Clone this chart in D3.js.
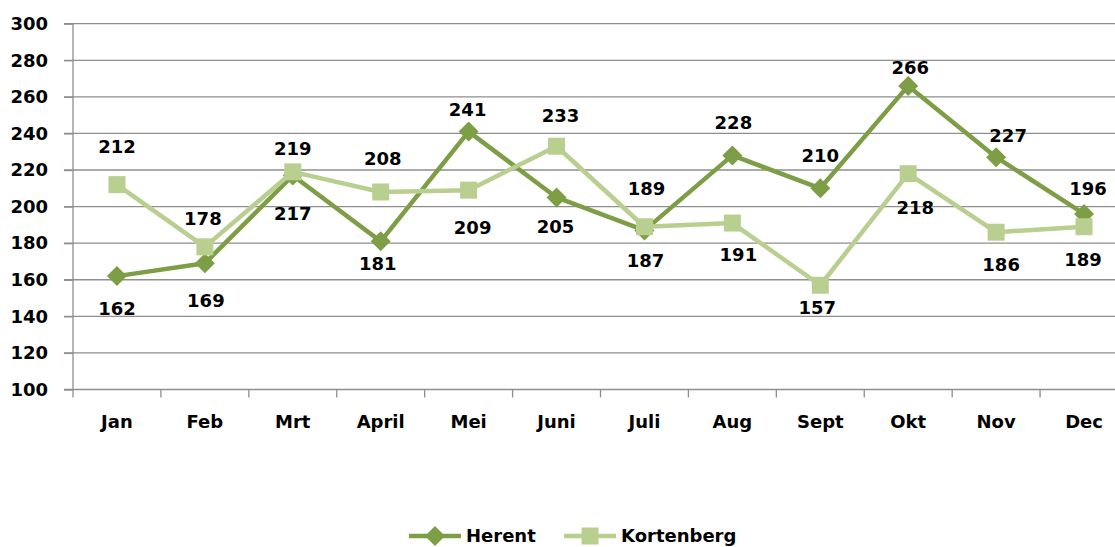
<!DOCTYPE html>
<html lang="en">
<head>
<meta charset="UTF-8">
<script src="https://d3js.org/d3.v7.min.js"></script>
<style>
    body { margin: 0; background: #fff; }
    svg { display: block; font-family: "DejaVu Sans", sans-serif; font-weight: bold; }
    .grid line { stroke: #8e8e8e; stroke-width: 1.3px; }
    .axis path, .axis line { stroke: #8e8e8e; stroke-width: 1.3px; }
    .axis text { fill: #000; font-size: 18px; font-weight: bold; font-family: "DejaVu Sans", sans-serif; }
    .lbl { font-size: 18px; fill: #000; }
</style>
</head>
<body>
<svg id="chart" width="1115" height="547"></svg>
<script>
// data
const months = ["Jan", "Feb", "Mrt", "April", "Mei", "Juni", "Juli", "Aug", "Sept", "Okt", "Nov", "Dec"];
const herent = [162, 169, 217, 181, 241, 205, 187, 228, 210, 266, 227, 196];
const kortenberg = [212, 178, 219, 208, 209, 233, 189, 191, 157, 218, 186, 189];
const yTicks = [100, 120, 140, 160, 180, 200, 220, 240, 260, 280, 300];

// label offsets (dx, dy) from each point
const herentLbl = [[0,32],[1,37],[0,38],[-3,22],[-1,-22],[-1,29],[1,30],[1,-33],[0,-33],[2,-18],[12,-22],[4,-25]];
const kortLbl = [[0,-38],[-2,-28],[0,-23],[2,-33],[4,37],[4,-31],[2,-38],[6,31],[-3,22],[7,34],[5,32],[-1,33]];

const svg = d3.select("#chart");
const plotL = 73, plotR = 1128, plotT = 23.7, plotB = 389.5;

const x = d3.scaleBand().domain(months).range([plotL, plotR]);
const y = d3.scaleLinear().domain([100, 300]).range([plotB, plotT]);
const cx = m => x(m) + x.bandwidth() / 2;

// gridlines
svg.append("g").attr("class", "grid")
   .selectAll("line").data(yTicks.slice(1)).join("line")
   .attr("x1", plotL - 9).attr("x2", plotR)
   .attr("y1", d => y(d)).attr("y2", d => y(d));

// y axis
const yAxis = svg.append("g").attr("class", "axis")
   .attr("transform", `translate(${plotL},0)`)
   .call(d3.axisLeft(y).tickValues(yTicks).tickSize(9).tickSizeOuter(0).tickPadding(16));
yAxis.select(".domain").attr("d", `M0,${plotT}V${plotB}`);

// x axis with ticks on band edges
const xAxis = svg.append("g").attr("class", "axis")
   .attr("transform", `translate(0,${plotB})`);
xAxis.append("line").attr("x1", plotL - 9).attr("x2", plotR);
xAxis.selectAll("line.tk").data(d3.range(months.length + 1)).join("line")
   .attr("class", "tk")
   .attr("x1", i => plotL + i * x.bandwidth()).attr("x2", i => plotL + i * x.bandwidth())
   .attr("y1", 0).attr("y2", 8);
xAxis.selectAll("text").data(months).join("text")
   .attr("x", d => cx(d)).attr("y", 38)
   .attr("text-anchor", "middle")
   .text(d => d);

const line = d3.line().x((d, i) => cx(months[i])).y(d => y(d));

const series = [
    {name: "Herent", values: herent, color: "#7e9e46", shape: "diamond", lbl: herentLbl},
    {name: "Kortenberg", values: kortenberg, color: "#b8cf90", shape: "square", lbl: kortLbl}
];

const diamond = "M0,-10L10,0L0,10L-10,0Z";
const square = "M-8.5,-8.5H8.5V8.5H-8.5Z";

series.forEach(s => {
    svg.append("path").datum(s.values)
       .attr("d", line)
       .attr("fill", "none")
       .attr("stroke", s.color)
       .attr("stroke-width", 4.5)
       .attr("stroke-linejoin", "round");
    svg.append("g").selectAll("path").data(s.values).join("path")
       .attr("d", s.shape === "diamond" ? diamond : square)
       .attr("transform", (d, i) => `translate(${cx(months[i])},${y(d)})`)
       .attr("fill", s.color);
});

// data labels
series.forEach(s => {
    svg.append("g").selectAll("text").data(s.values).join("text")
       .attr("class", "lbl")
       .attr("x", (d, i) => cx(months[i]) + s.lbl[i][0])
       .attr("y", (d, i) => y(d) + s.lbl[i][1])
       .attr("dy", "0.36em")
       .attr("text-anchor", "middle")
       .text(d => d);
});

// legend
const legend = svg.append("g").attr("transform", "translate(409,536)");
const legX = [0, 155];
series.forEach((s, i) => {
    const g = legend.append("g").attr("transform", `translate(${legX[i]},0)`);
    g.append("line").attr("x1", 0).attr("x2", 52)
     .attr("stroke", s.color).attr("stroke-width", 4.5);
    g.append("path").attr("d", s.shape === "diamond" ? diamond : square)
     .attr("transform", "translate(26,0)").attr("fill", s.color);
    g.append("text").attr("class", "lbl").attr("x", 57).attr("dy", "0.36em").text(s.name);
});
</script>
</body>
</html>
